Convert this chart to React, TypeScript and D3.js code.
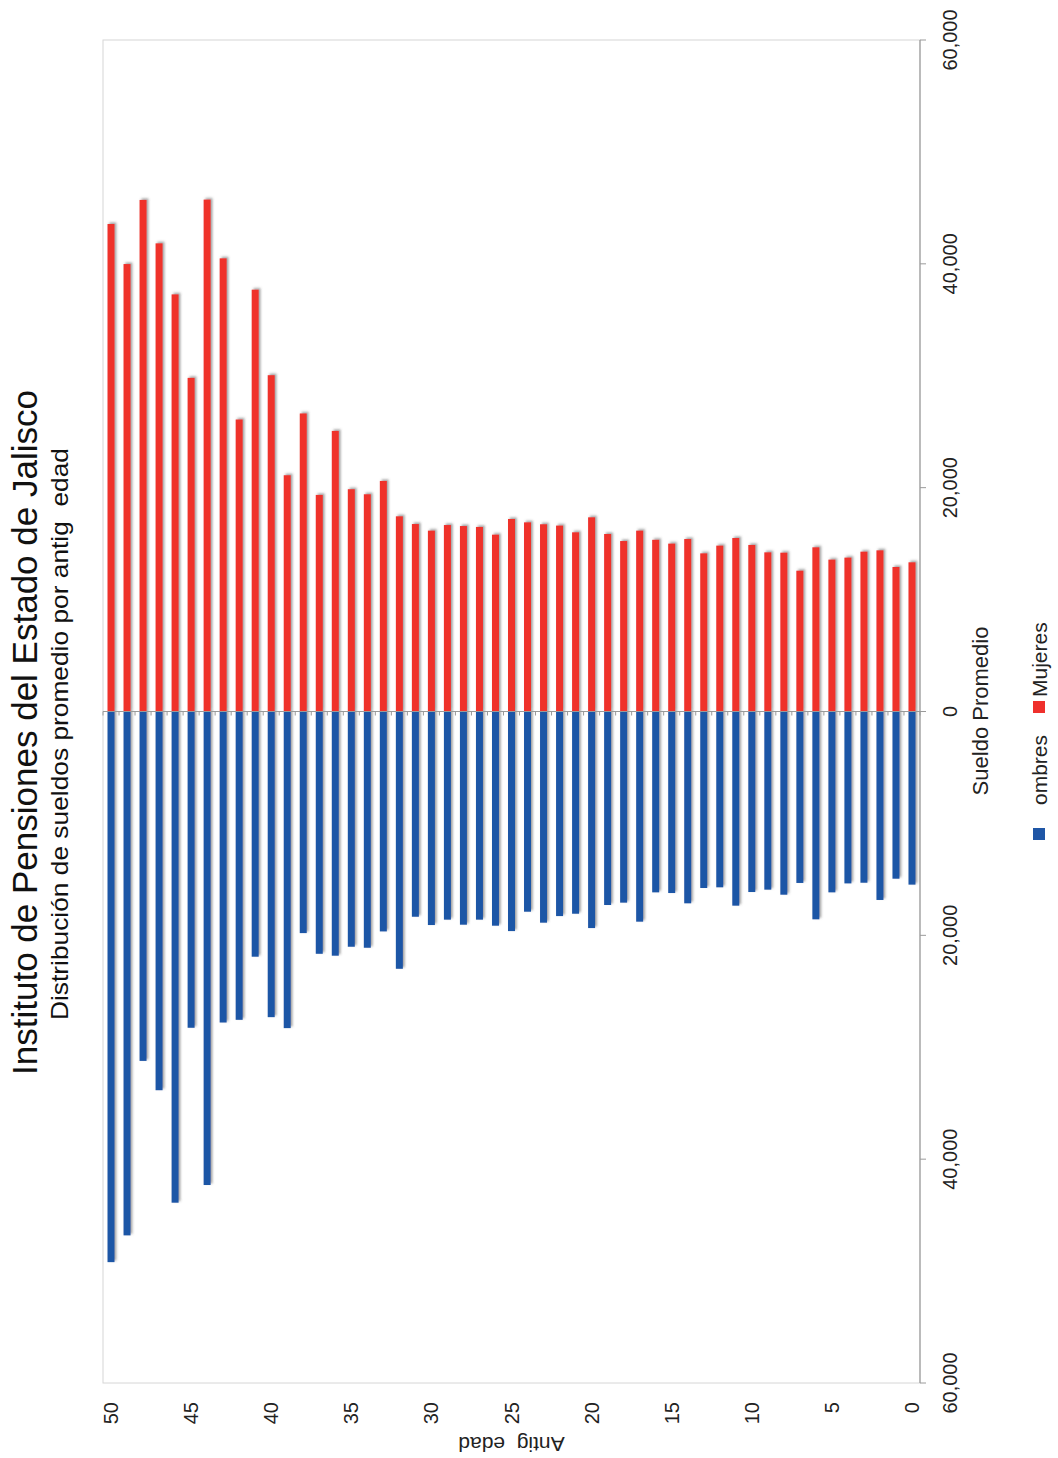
import React from "react";
import * as d3 from "d3";

const categories: number[] = [
  0, 1, 2, 3, 4, 5, 6, 7, 8, 9, 10, 11, 12, 13, 14, 15, 16, 17, 18, 19, 20,
  21, 22, 23, 24, 25, 26, 27, 28, 29, 30, 31, 32, 33, 34, 35, 36, 37, 38, 39,
  40, 41, 42, 43, 44, 45, 46, 47, 48, 49, 50,
];

const mujeres: number[] = [
  13330, 12910, 14400, 14280, 13750, 13570, 14670, 12580, 14190, 14220,
  14880, 15500, 14820, 14130, 15410, 15000, 15340, 16160, 15230, 15860,
  17350, 16010, 16610, 16730, 16900, 17200, 15800, 16490, 16570, 16660,
  16160, 16750, 17440, 20600, 19410, 19860, 25070, 19350, 26630, 21110,
  30050, 37690, 26090, 40490, 45740, 29810, 37270, 41830, 45710, 39980,
  43560,
];

const hombres: number[] = [
  15470, 14940, 16840, 15300, 15360, 16160, 18570, 15320, 16370, 15920,
  16130, 17350, 15710, 15770, 17140, 16220, 16160, 18780, 17080, 17290,
  19350, 18070, 18280, 18870, 17890, 19620, 19140, 18600, 19050, 18600,
  19080, 18340, 22990, 19650, 21110, 21020, 21820, 21650, 19800, 28290,
  27310, 21910, 27550, 27790, 42310, 28260, 43890, 33840, 31220, 46810,
  49200,
];

const valueTicks: number[] = [-60000, -40000, -20000, 0, 20000, 40000, 60000];
const categoryTickLabels: number[] = [0, 5, 10, 15, 20, 25, 30, 35, 40, 45, 50];

const seriesNames = ["ombres", "Mujeres"];
const seriesColors = ["#1F56A6", "#EF302C"];

const TITLE = "Instituto de Pensiones del Estado de Jalisco";
const SUBTITLE = "Distribución de sueldos promedio por antig  edad";
const VALUE_TITLE = "Sueldo Promedio";
const CATEGORY_TITLE = "Antig  edad";

// Landscape drawing coordinates (rotated -90° onto the portrait page)
const PAGE_W = 1058;
const PAGE_H = 1458;
const FONT = "'Liberation Sans', Arial, Helvetica, sans-serif";

export default function App() {
  const plotLeft = 75;
  const plotRight = 1418;
  const plotTop = 103;
  const plotBottom = 920;

  const x = d3.scaleLinear().domain([-60000, 60000]).range([plotLeft, plotRight]);
  const y = d3
    .scaleBand<number>()
    .domain([...categories].reverse())
    .range([plotTop, plotBottom])
    .paddingInner(0)
    .paddingOuter(0);

  const barW = 7;
  const bw = y.bandwidth();
  const fmt = d3.format(",");
  const x0 = x(0);

  const boundaries = d3.range(categories.length + 1).map((k) => plotTop + k * bw);

  return (
    <svg
      width={PAGE_W}
      height={PAGE_H}
      style={{ position: "absolute", left: 0, top: 0, background: "#fff" }}
      fontFamily={FONT}
    >
      <defs>
        <filter id="shadow" x="-50%" y="-10%" width="200%" height="120%">
          <feDropShadow dx="1.5" dy="1.8" stdDeviation="0.9" floodColor="#555" floodOpacity="0.55" />
        </filter>
      </defs>
      <rect x={0} y={0} width={PAGE_W} height={PAGE_H} fill="#fff" />
      <g transform={`translate(0,${PAGE_H}) rotate(-90)`}>
        {/* plot frame */}
        <rect
          x={plotLeft}
          y={plotTop}
          width={plotRight - plotLeft}
          height={plotBottom - plotTop}
          fill="none"
          stroke="#d6d6d6"
          strokeWidth={1}
        />

        {/* bars */}
        <g filter="url(#shadow)">
          {categories.map((c, i) => (
            <rect
              key={"h" + c}
              x={x(-hombres[i])}
              y={(y(c) as number) + (bw - barW) / 2}
              width={x0 - x(-hombres[i])}
              height={barW}
              fill={seriesColors[0]}
            />
          ))}
          {categories.map((c, i) => (
            <rect
              key={"m" + c}
              x={x0}
              y={(y(c) as number) + (bw - barW) / 2}
              width={x(mujeres[i]) - x0}
              height={barW}
              fill={seriesColors[1]}
            />
          ))}
        </g>

        {/* category axis at zero */}
        <line x1={x0} x2={x0} y1={plotTop} y2={plotBottom} stroke="#9a9a9a" strokeWidth={1.2} />
        {boundaries.map((b, k) => (
          <line key={"ct" + k} x1={x0} x2={x0 - 4} y1={b} y2={b} stroke="#9a9a9a" strokeWidth={1} />
        ))}

        {/* value axis */}
        <line x1={plotLeft} x2={plotRight} y1={plotBottom} y2={plotBottom} stroke="#9a9a9a" strokeWidth={1.2} />
        {valueTicks.map((v) => (
          <g key={"vt" + v}>
            <line x1={x(v)} x2={x(v)} y1={plotBottom} y2={plotBottom + 6} stroke="#9a9a9a" strokeWidth={1} />
            <text x={x(v)} y={plotBottom + 37} textAnchor="middle" fontSize={20} fill="#222">
              {fmt(Math.abs(v))}
            </text>
          </g>
        ))}
        <text x={747} y={988} textAnchor="middle" fontSize={22} fill="#222">
          {VALUE_TITLE}
        </text>

        {/* category labels */}
        {categoryTickLabels.map((c) => (
          <text
            key={"cl" + c}
            x={56}
            y={(y(c) as number) + bw / 2}
            textAnchor="end"
            dominantBaseline="central"
            fontSize={20}
            fill="#222"
          >
            {c}
          </text>
        ))}
        <text
          transform={`translate(21,${(plotTop + plotBottom) / 2}) rotate(-90)`}
          textAnchor="middle"
          fontSize={21}
          fill="#222"
          style={{ whiteSpace: "pre" }}
        >
          {CATEGORY_TITLE}
        </text>

        {/* titles */}
        <text x={725.5} y={37} textAnchor="middle" fontSize={35} fill="#111">
          {TITLE}
        </text>
        <text
          x={724}
          y={68}
          textAnchor="middle"
          fontSize={24}
          fill="#111"
          textLength={572}
          lengthAdjust="spacingAndGlyphs"
          style={{ whiteSpace: "pre" }}
        >
          {SUBTITLE}
        </text>

        {/* legend */}
        <rect x={618} y={1033} width={12} height={12} fill={seriesColors[0]} />
        <text x={653} y={1047} fontSize={21} fill="#222">
          {seriesNames[0]}
        </text>
        <rect x={745} y={1033} width={12} height={12} fill={seriesColors[1]} />
        <text x={761} y={1047} fontSize={21} fill="#222">
          {seriesNames[1]}
        </text>
      </g>
    </svg>
  );
}
